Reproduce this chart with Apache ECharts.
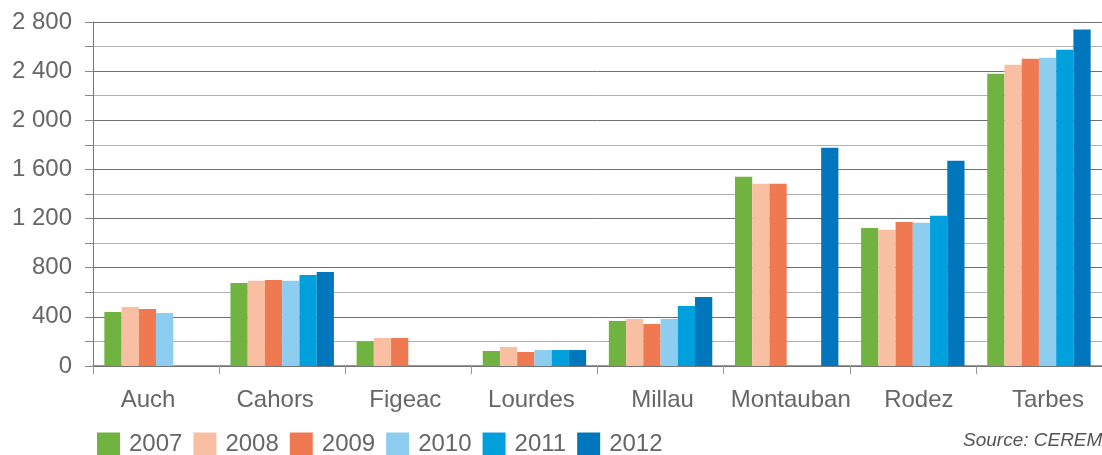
<!DOCTYPE html>
<html><head><meta charset="utf-8">
<script src="https://cdn.jsdelivr.net/npm/echarts@6/dist/echarts.min.js"></script>
<style>html,body{margin:0;padding:0;background:#fff}#c{width:1102px;height:455px}</style>
</head><body><div id="c"></div>
<script>
const categories = ['Auch','Cahors','Figeac','Lourdes','Millau','Montauban','Rodez','Tarbes'];
const years = ['2007','2008','2009','2010','2011','2012'];
const v2007 = [440, 676, 201, 122, 367, 1540, 1124, 2379];
const v2008 = [481, 693, 228, 155, 383, 1483, 1108, 2452];
const v2009 = [464, 701, 228, 114, 342, 1483, 1173, 2501];
const v2010 = [432, 693, null, 130, 383, null, 1165, 2509];
const v2011 = [null, 741, null, 130, 489, null, 1222, 2575];
const v2012 = [null, 766, null, 130, 562, 1776, 1670, 2738];
const colors = ['#70B340','#F9BFA3','#EF7A52','#8DCDF0','#00A0DD','#0077BD'];
const seriesData = [v2007, v2008, v2009, v2010, v2011, v2012];

// small horizontal nudges of category labels (px), to mimic source layout
const labelShift = [-8, -7, -3, -3, 2, 4, 6, 9];
const rich = {};
labelShift.forEach((s, i) => {
  rich['s' + i] = { fontSize: 24, color: '#666', fontFamily: 'Liberation Sans, Arial, sans-serif',
    padding: [0, s < 0 ? -2 * s : 0, 0, s > 0 ? 2 * s : 0] };
});

const chart = echarts.init(document.getElementById('c'));
chart.setOption({
  animation: false,
  textStyle: { fontFamily: 'Liberation Sans, Arial, sans-serif' },
  grid: { left: 93, right: 0, top: 22, bottom: 89, containLabel: false },
  legend: {
    left: 97, top: 432, itemWidth: 23, itemHeight: 23, itemGap: 11, padding: 0,
    icon: 'rect',
    textStyle: { fontSize: 24, color: '#666', padding: [2,0,0,4] },
    data: years
  },
  graphic: [{
    type: 'text', left: 963, top: 431,
    style: { text: 'Source: CEREMA', fontSize: 19, fontStyle: 'italic', fill: '#555', fontFamily: 'Liberation Sans, Arial, sans-serif' }
  }],
  xAxis: {
    type: 'category', data: categories,
    axisLine: { lineStyle: { color: '#777', width: 1.5 } },
    axisTick: { show: true, length: 8, lineStyle: { color: '#999' } },
    axisLabel: { fontSize: 24, color: '#666', margin: 22, interval: 0,
      formatter: (v, i) => '{s' + i + '|' + v + '}', rich: rich }
  },
  yAxis: {
    type: 'value', min: 0, max: 2800, interval: 200,
    axisLine: { show: true, lineStyle: { color: '#777' } },
    axisTick: { show: true, length: 8, lineStyle: { color: '#888' } },
    axisLabel: {
      fontSize: 24, color: '#666', margin: 21,
      formatter: v => (v % 400 === 0) ? String(v).replace(/\B(?=(\d{3})+(?!\d))/g, ' ') : ''
    },
    splitLine: { lineStyle: { color: ['#707070','#b0b0b0'], width: 1 } }
  },
  series: years.map((y, i) => ({
    name: y, type: 'bar', data: seriesData[i],
    itemStyle: { color: colors[i] },
    barGap: '0%', barCategoryGap: '18%'
  }))
});
</script></body></html>
